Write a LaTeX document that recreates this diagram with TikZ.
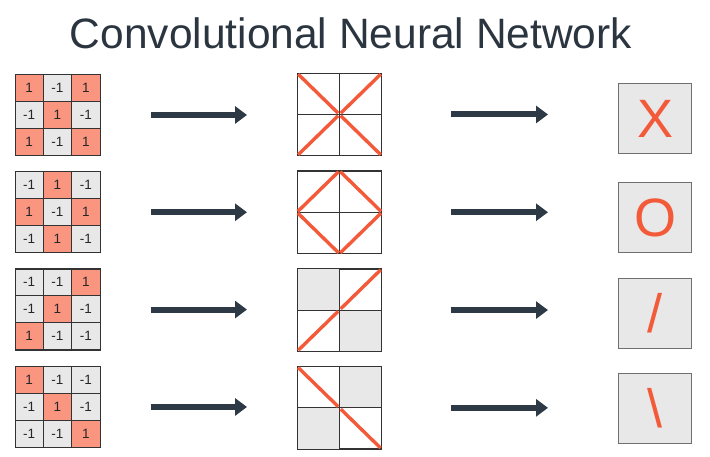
\documentclass[tikz,border=0pt]{standalone}
\usepackage{fontspec}
\setmainfont{Liberation Sans}
\usetikzlibrary{arrows.meta,calc}
\definecolor{salmon}{HTML}{FA9580}
\definecolor{cellgrey}{HTML}{E8E8E8}
\definecolor{redline}{HTML}{F25A3A}
\definecolor{arrowc}{HTML}{2D3A45}
\definecolor{titlec}{HTML}{2B3540}
\definecolor{boxedge}{HTML}{707070}
\newcommand\ingridcells[3]{%
  \foreach \v [count=\k from 0] in {#3} {
    \pgfmathtruncatemacro\cc{mod(\k,3)}
    \pgfmathtruncatemacro\rr{div(\k,3)}
    \ifnum\v=1 \def\fc{salmon}\else\def\fc{cellgrey}\fi
    \node[incell, fill=\fc] (#1-\rr-\cc) at ({15+28.333*(\cc+0.5)}, {#2+27*(\rr+0.5)}) {\v};
  }
  \node[gridframe, minimum width=85pt, minimum height=81pt, anchor=north west] (#1) at (15,#2) {};
}
\newcommand\midgrid[2]{%
  \node[gridframe, minimum width=84pt, minimum height=82pt, anchor=north west] (#1) at (297,#2) {};
}
\tikzset{
  incell/.style={rectangle, draw=black!80, line width=0.9pt, minimum width=28.333pt, minimum height=27pt, inner sep=0pt, font=\fontsize{13.5}{15}\selectfont, text=black!85},
  gridframe/.style={rectangle, draw=black!80, line width=0.9pt, inner sep=0pt},
  midline/.style={draw=black!80, line width=0.9pt},
  redstroke/.style={draw=redline, line width=3.4pt},
  outbox/.style={rectangle, fill=cellgrey, draw=boxedge, line width=1.2pt, minimum width=73pt, minimum height=70pt, anchor=north west, inner sep=0pt, text=redline, font=\fontsize{54}{60}\selectfont},
  bigarrow/.style={draw=arrowc, line width=6pt, -{Triangle[length=12pt,width=17pt]}},
}
\begin{document}
\begin{tikzpicture}[x=1pt,y=-1pt]
\useasboundingbox (0,0) rectangle (710,456);
\node[anchor=base, text=titlec, font=\fontsize{42.5}{50}\selectfont] (title) at (351,48) {Convolutional Neural Network};

% input grids
\ingridcells{in1}{74}{1,-1,1,-1,1,-1,1,-1,1}
\ingridcells{in2}{171.3}{-1,1,-1,1,-1,1,-1,1,-1}
\ingridcells{in3}{268.6}{-1,-1,1,-1,1,-1,1,-1,-1}
\ingridcells{in4}{366}{1,-1,-1,-1,1,-1,-1,-1,1}

% middle grids
\midgrid{mid1}{73}
\midgrid{mid2}{170.8}
\midgrid{mid3}{268.6}
\midgrid{mid4}{366.4}
% grey cells
\fill[cellgrey] (mid3.north west) rectangle (mid3.center);
\fill[cellgrey] (mid3.center) rectangle (mid3.south east);
\fill[cellgrey] (mid4.north) rectangle (mid4.east);
\fill[cellgrey] (mid4.west) rectangle (mid4.south);
\foreach \m in {mid1,mid2,mid3,mid4} {
  \draw[midline] (\m.north) -- (\m.south);
  \draw[midline] (\m.west) -- (\m.east);
  \draw[midline] (\m.north west) rectangle (\m.south east);
}
% red strokes
\foreach \a in {north west,north east,south west,south east}
  \draw[redstroke] ($(mid1.\a)!0.03!(mid1.center)$) -- ($(mid1.\a)!0.97!(mid1.center)$);
\draw[redstroke] ($(mid2.north)!0.02!(mid2.east)$) -- ($(mid2.north)!0.98!(mid2.east)$);
\draw[redstroke] ($(mid2.east)!0.02!(mid2.south)$) -- ($(mid2.east)!0.98!(mid2.south)$);
\draw[redstroke] ($(mid2.south)!0.02!(mid2.west)$) -- ($(mid2.south)!0.98!(mid2.west)$);
\draw[redstroke] ($(mid2.west)!0.02!(mid2.north)$) -- ($(mid2.west)!0.98!(mid2.north)$);
\draw[redstroke] ($(mid3.south west)!0.03!(mid3.center)$) -- ($(mid3.south west)!0.97!(mid3.center)$);
\draw[redstroke] ($(mid3.north east)!0.03!(mid3.center)$) -- ($(mid3.north east)!0.97!(mid3.center)$);
\draw[redstroke] ($(mid4.north west)!0.03!(mid4.center)$) -- ($(mid4.north west)!0.97!(mid4.center)$);
\draw[redstroke] ($(mid4.south east)!0.03!(mid4.center)$) -- ($(mid4.south east)!0.97!(mid4.center)$);

% output boxes
\node[outbox] (out1) at (618,83) {X};
\node[outbox] (out2) at (618,182) {O};
\node[outbox] (out3) at (618,278) {/};
\node[outbox] (out4) at (618,373) {\textbackslash};

% arrows
\foreach \r in {1,2,3,4} {
  \draw[bigarrow, shorten <=50pt, shorten >=50pt] (in\r.east) -- (in\r.east -| mid\r.west);
  \draw[bigarrow, shorten <=69pt, shorten >=70pt] (mid\r.east) -- (mid\r.east -| out\r.west);
}
\end{tikzpicture}
\end{document}
